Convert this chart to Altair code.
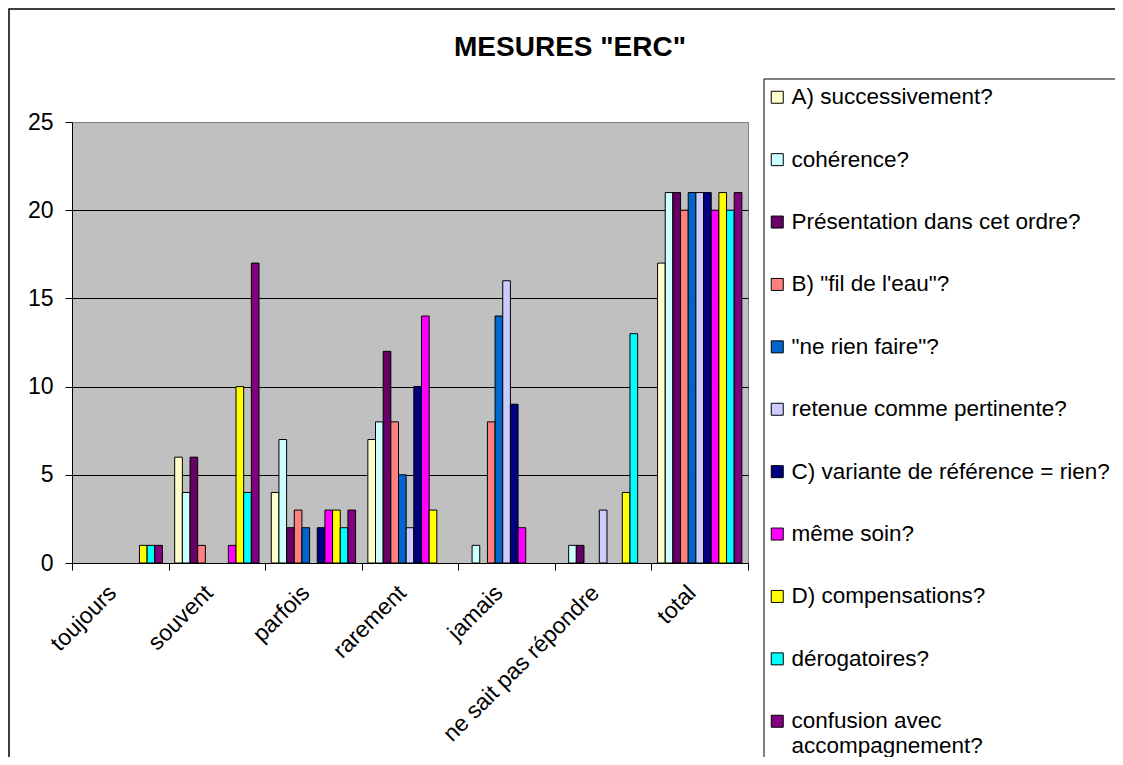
import altair as alt
import pandas as pd

chart_title = 'MESURES "ERC"'

categories = ["toujours", "souvent", "parfois", "rarement", "jamais",
              "ne sait pas répondre", "total"]

series = [
    "A) successivement?",
    "cohérence?",
    "Présentation dans cet ordre?",
    "B) \"fil de l'eau\"?",
    "\"ne rien faire\"?",
    "retenue comme pertinente?",
    "C) variante de référence = rien?",
    "même soin?",
    "D) compensations?",
    "dérogatoires?",
    "confusion avec accompagnement?",
]

colors = ["#FFFFCC", "#CCFFFF", "#660066", "#FF8080", "#0066CC", "#CCCCFF",
          "#000080", "#FF00FF", "#FFFF00", "#00FFFF", "#800080"]

v_successivement = [0, 6, 4, 7, 0, 0, 17]
v_coherence = [0, 4, 7, 8, 1, 1, 21]
v_presentation = [0, 6, 2, 12, 0, 1, 21]
v_fil_eau = [0, 1, 3, 8, 8, 0, 20]
v_ne_rien = [0, 0, 2, 5, 14, 0, 21]
v_retenue = [0, 0, 0, 2, 16, 3, 21]
v_variante = [0, 0, 2, 10, 9, 0, 21]
v_meme_soin = [0, 1, 3, 14, 2, 0, 20]
v_compensations = [1, 10, 3, 3, 0, 4, 21]
v_derogatoires = [1, 4, 2, 0, 0, 13, 20]
v_confusion = [1, 17, 3, 0, 0, 0, 21]

all_values = [v_successivement, v_coherence, v_presentation, v_fil_eau, v_ne_rien,
              v_retenue, v_variante, v_meme_soin, v_compensations, v_derogatoires,
              v_confusion]

y_ticks = [0, 5, 10, 15, 20, 25]

rows = []
for s, vals in zip(series, all_values):
    for c, v in zip(categories, vals):
        rows.append({"categorie": c, "serie": s, "valeur": v})
df = pd.DataFrame(rows)

FONT = "Liberation Sans"
W, H = 676, 441

bars = alt.Chart(df).transform_filter("datum.valeur > 0").mark_bar(
    stroke="black", strokeWidth=1
).encode(
    x=alt.X("categorie:N", sort=categories, title=None,
            scale=alt.Scale(domain=categories, paddingInner=0, paddingOuter=0),
            axis=alt.Axis(labelAngle=-45, labelFontSize=23, labelFont=FONT,
                          labelColor="black", domainColor="black", tickColor="black",
                          tickSize=7, tickBand="extent", labelPadding=19,
                          labelBaseline="middle", labelAlign="right",
                          labelOffset=-8, labelLimit=400, grid=False)),
    xOffset=alt.XOffset("serie:N", sort=series,
                        scale=alt.Scale(domain=series, paddingInner=0, paddingOuter=0.8)),
    y=alt.Y("valeur:Q", title=None,
            scale=alt.Scale(domain=[0, 25], nice=False),
            axis=alt.Axis(values=y_ticks, labelFontSize=23, labelFont=FONT,
                          labelColor="black", domainColor="black", tickColor="black",
                          tickSize=7, labelPadding=12, grid=True,
                          gridColor={"condition": {"test": "datum.value >= 25",
                                                   "value": "#808080"},
                                     "value": "black"},
                          gridWidth=1)),
    color=alt.Color("serie:N", sort=series,
                    scale=alt.Scale(domain=series, range=colors),
                    legend=alt.Legend(
                        orient="none", legendX=694, legendY=-36, title=None,
                        direction="vertical", symbolType="square", symbolSize=144,
                        symbolStrokeColor="black", symbolStrokeWidth=1,
                        labelFontSize=22.5, labelFont=FONT, labelColor="black",
                        labelOffset=3, rowPadding=39.4, labelLimit=500, padding=0,
                        labelExpr="datum.label == 'confusion avec accompagnement?' ? ['confusion avec', 'accompagnement?'] : datum.label",
                    )),
)

frame_df = pd.DataFrame({"k": [0]})
title_df = pd.DataFrame({"t": [chart_title]})

outer_frame = alt.Chart(frame_df).mark_rect(
    fill=None, stroke="black", strokeWidth=1.5
).encode(
    x=alt.value(-63), x2=alt.value(W + 400),
    y=alt.value(-113), y2=alt.value(H + 300),
)

legend_box = alt.Chart(frame_df).mark_rect(
    fill="white", stroke="black", strokeWidth=1
).encode(
    x=alt.value(692), x2=alt.value(1048),
    y=alt.value(-43), y2=alt.value(H + 300),
)

title_text = alt.Chart(title_df).mark_text(
    font=FONT, fontSize=28, fontWeight="bold", color="black",
    align="center", baseline="alphabetic"
).encode(
    text="t:N", x=alt.value(498), y=alt.value(-66),
)

chart = alt.layer(outer_frame, legend_box, title_text, bars).properties(
    width=W, height=H,
    autosize="none",
    background="white",
    padding={"left": 64, "top": 114, "right": 367, "bottom": 194},
).configure_view(
    fill="#C0C0C0", stroke="#808080", strokeWidth=1
)

chart.save("out.html", embed_options={"renderer": "svg", "actions": False})
